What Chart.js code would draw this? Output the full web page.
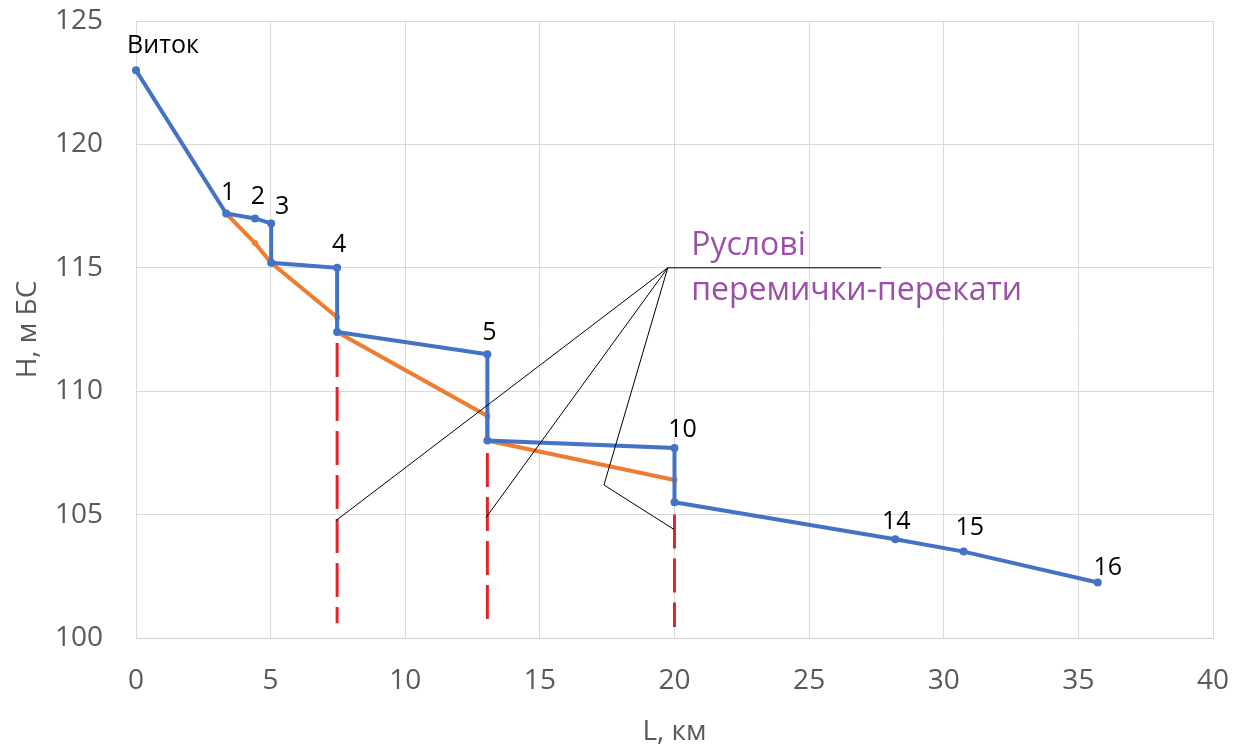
<!DOCTYPE html>
<html><head><meta charset="utf-8">
<script src="https://cdn.jsdelivr.net/npm/chart.js@4.4.1/dist/chart.umd.min.js"></script>
<style>html,body{margin:0;padding:0;background:#fff;}#wrap{width:1248px;height:749px;}</style>
</head><body><div id="wrap"><canvas id="c" width="1248" height="749"></canvas></div>
<script>
// ---- data ----
const profileL = [0, 3.35, 4.42, 5.02, 5.02, 7.47, 7.47, 13.05, 13.05, 20.0, 20.0, 28.2, 30.74, 35.72];
const profileH = [123.0, 117.2, 117.0, 116.8, 115.2, 115.0, 112.4, 111.5, 108.0, 107.7, 105.5, 104.0, 103.5, 102.25];
const profileLabels = ['Виток', '1', '2', '3', '', '4', '', '5', '', '10', '', '14', '15', '16'];

const smoothL = [3.35, 4.42, 5.02, 7.47, 7.47, 13.05, 13.05, 20.0];
const smoothH = [117.2, 116.0, 115.2, 113.0, 112.4, 109.0, 108.0, 106.4];

const barrierL = [7.47, 13.05, 20.0];
const barrierTop = [111.95, 107.5, 105.0];
const barrierBottom = [100.6, 100.7, 100.45];

const calloutOrigin = [19.75, 115.0];
const calloutShelfEnd = [27.67, 115.0];
const calloutTargetsL = [7.43, 13.0];
const calloutTargetsH = [104.76, 104.88];
const calloutBendL = [17.38, 19.98];
const calloutBendH = [106.2, 104.4];

const annotationText = ['Руслові', 'перемички-перекати'];
const annotationAnchorL = 20.62;
const annotationAnchorH = [115.5, 113.68];

const xTicks = [0, 5, 10, 15, 20, 25, 30, 35, 40];
const yTicks = [100, 105, 110, 115, 120, 125];
const xTitle = 'L, км';
const yTitle = 'Н, м БС';

// ---- build ----
const pts = (xs, ys) => xs.map((x, i) => ({x: x, y: ys[i]}));
const FONT = '"Open Sans", "Noto Sans", sans-serif';

const datasets = [];
datasets.push({
  data: pts(profileL, profileH), showLine: true, borderColor: '#4472C4', borderWidth: 4,
  pointRadius: 4, pointBackgroundColor: '#4472C4', pointBorderWidth: 0, order: 2, clip: false
});
datasets.push({
  data: pts(smoothL, smoothH), showLine: true, borderColor: '#ED7D31', borderWidth: 4,
  pointRadius: 3, pointBackgroundColor: '#ED7D31', pointBorderWidth: 0, order: 3, clip: false
});
barrierL.forEach((l, i) => {
  datasets.push({
    data: [{x: l, y: barrierTop[i]}, {x: l, y: barrierBottom[i]}], showLine: true,
    borderColor: '#E0262B', borderWidth: 3, borderDash: [34, 10], pointRadius: 0, order: 4
  });
});
datasets.push({
  data: [{x: calloutOrigin[0], y: calloutOrigin[1]}, {x: calloutShelfEnd[0], y: calloutShelfEnd[1]}],
  showLine: true, borderColor: '#000', borderWidth: 1, pointRadius: 0, order: 1
});
calloutTargetsL.forEach((l, i) => {
  datasets.push({
    data: [{x: calloutOrigin[0], y: calloutOrigin[1]}, {x: l, y: calloutTargetsH[i]}],
    showLine: true, borderColor: '#000', borderWidth: 1, pointRadius: 0, order: 1
  });
});
datasets.push({
  data: [{x: calloutOrigin[0], y: calloutOrigin[1]}].concat(pts(calloutBendL, calloutBendH)),
  showLine: true, borderColor: '#000', borderWidth: 1, pointRadius: 0, order: 1
});

const labelNudge = {
  'Виток': [27, -24], '1': [2, -21], '2': [3, -22], '3': [11, -17], '4': [2, -23],
  '5': [2, -21], '10': [8, -18], '14': [1, -17], '15': [6, -24], '16': [10, -15]
};

const labelPlugin = {
  id: 'labels',
  afterDatasetsDraw(chart) {
    const ctx = chart.ctx;
    const xs = chart.scales.x, ys = chart.scales.y;
    ctx.save();
    ctx.fillStyle = '#000';
    ctx.font = '25px ' + FONT;
    ctx.textAlign = 'center';
    ctx.textBaseline = 'middle';
    profileLabels.forEach((t, i) => {
      if (!t) return;
      const n = labelNudge[t] || [0, -20];
      ctx.fillText(t, xs.getPixelForValue(profileL[i]) + n[0], ys.getPixelForValue(profileH[i]) + n[1]);
    });
    ctx.fillStyle = '#9B4FA9';
    ctx.font = '32px ' + FONT;
    ctx.textAlign = 'left';
    ctx.textBaseline = 'alphabetic';
    annotationText.forEach((t, i) => {
      ctx.fillText(t, xs.getPixelForValue(annotationAnchorL), ys.getPixelForValue(annotationAnchorH[i]));
    });
    ctx.restore();
  }
};

new Chart(document.getElementById('c'), {
  type: 'scatter',
  data: {datasets: datasets},
  plugins: [labelPlugin],
  options: {
    responsive: false, animation: false,
    layout: {padding: {top: 21, right: 35, left: 0, bottom: 0}},
    plugins: {legend: {display: false}, tooltip: {enabled: false}},
    scales: {
      x: {
        type: 'linear', min: 0, max: 40,
        afterBuildTicks: s => { s.ticks = xTicks.map(v => ({value: v})); },
        afterFit: s => { s.height = 111; s.paddingLeft = 0; s.paddingRight = 0; },
        ticks: {font: {family: FONT, size: 28}, color: '#595959', padding: 26},
        grid: {color: '#d9d9d9', lineWidth: 1, drawTicks: false},
        border: {color: '#d0d0d0', width: 1},
        title: {display: true, text: xTitle, font: {family: FONT, size: 28}, color: '#595959', padding: {top: 0, bottom: 0}}
      },
      y: {
        type: 'linear', min: 100, max: 125,
        afterBuildTicks: s => { s.ticks = yTicks.map(v => ({value: v})); },
        afterFit: s => { s.width = 136; s.paddingTop = 0; s.paddingBottom = 0; },
        ticks: {font: {family: FONT, size: 28}, color: '#595959', padding: 33},
        grid: {color: '#d9d9d9', lineWidth: 1, drawTicks: false},
        border: {color: '#d9d9d9', width: 1},
        title: {display: true, text: yTitle, font: {family: FONT, size: 28}, color: '#595959', padding: {top: 11, bottom: 0}}
      }
    }
  }
});
</script></body></html>
